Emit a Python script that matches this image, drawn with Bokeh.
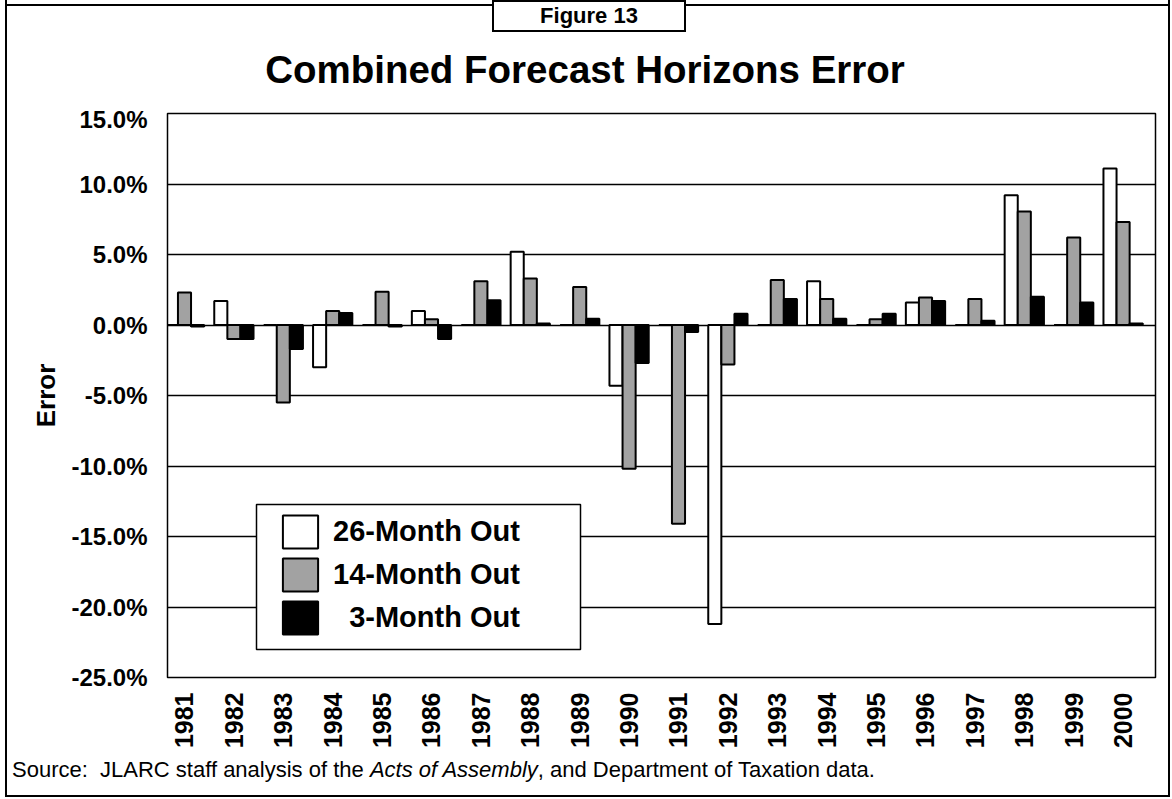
import math
from bokeh.plotting import figure
from bokeh.layouts import column
from bokeh.models import (ColumnDataSource, FixedTicker, Legend, LegendItem, Div,
                          BoxAnnotation, Range1d)
from bokeh.transform import dodge
from bokeh.embed import file_html
from bokeh.resources import INLINE

# ---------------- data (percent error) ----------------
years = ["1981", "1982", "1983", "1984", "1985", "1986", "1987", "1988", "1989", "1990",
         "1991", "1992", "1993", "1994", "1995", "1996", "1997", "1998", "1999", "2000"]
err_26 = [0.0, 1.7, 0.0, -3.0, 0.0, 1.0, 0.0, 5.2, 0.0, -4.3,
          0.0, -21.2, 0.0, 3.1, 0.0, 1.6, 0.0, 9.2, 0.0, 11.1]
err_14 = [2.3, -1.0, -5.5, 1.0, 2.35, 0.4, 3.1, 3.3, 2.7, -10.2,
          -14.1, -2.8, 3.2, 1.85, 0.4, 1.95, 1.85, 8.05, 6.2, 7.3]
err_3 = [-0.1, -1.0, -1.7, 0.85, -0.1, -1.0, 1.75, 0.1, 0.45, -2.7,
         -0.5, 0.8, 1.85, 0.45, 0.8, 1.7, 0.3, 2.0, 1.6, 0.1]
series_names = ["26-Month Out", "14-Month Out", "\u20073-Month Out"]
y_ticks = [15, 10, 5, 0, -5, -10, -15, -20, -25]
y_tick_labels = ["15.0%", "10.0%", "5.0%", "0.0%", "-5.0%", "-10.0%", "-15.0%", "-20.0%", "-25.0%"]
title_text = "Combined Forecast Horizons Error"
figure_tag = "Figure 13"
source_html = ("Source:&nbsp; JLARC staff analysis of the <i>Acts of Assembly</i>, "
               "and Department of Taxation data.")

FONT = "Liberation Sans"
CW = 1161                    # content width inside the outer frame
HEAD_H, FIG_H, SRC_H = 105, 650, 40
FL, FT = 160, 8              # frame left / top (canvas px)
FR, FB = 1148, 572           # frame right / bottom (canvas px)

src = ColumnDataSource(dict(x=list(range(len(years))), m26=err_26, m14=err_14, m3=err_3))

p = figure(width=CW, height=FIG_H, output_backend="svg", toolbar_location=None,
           x_range=Range1d(-0.344, 19.656), y_range=Range1d(-25, 15),
           min_border_left=FL, min_border_right=CW - FR, min_border_top=FT,
           min_border_bottom=FIG_H - FB,
           background_fill_color="white", border_fill_color="white")

bw = 0.265
r26 = p.vbar(x=dodge("x", -0.265, range=p.x_range), top="m26", width=bw, source=src,
             fill_color="white", line_color="black", line_width=2)
r14 = p.vbar(x=dodge("x", 0.0, range=p.x_range), top="m14", width=bw, source=src,
             fill_color="#a2a2a2", line_color="black", line_width=2)
r3 = p.vbar(x=dodge("x", 0.265, range=p.x_range), top="m3", width=bw, source=src,
            fill_color="black", line_color="black", line_width=2)

# axes
p.yaxis.ticker = FixedTicker(ticks=y_ticks)
p.yaxis.major_label_overrides = {t: l for t, l in zip(y_ticks, y_tick_labels)}
p.ygrid.ticker = FixedTicker(ticks=y_ticks)
p.xaxis.ticker = FixedTicker(ticks=list(range(len(years))))
p.xaxis.major_label_overrides = {i: y for i, y in enumerate(years)}
p.xaxis.major_label_orientation = math.pi / 2
p.xgrid.visible = False

for ax in (p.xaxis[0], p.yaxis[0]):
    ax.axis_line_color = None
    ax.major_tick_line_color = None
    ax.minor_tick_line_color = None
    ax.major_tick_out = 0
    ax.major_tick_in = 0
    ax.minor_tick_out = 0
    ax.major_label_text_font = FONT
    ax.major_label_text_font_style = "bold"
    ax.major_label_text_color = "black"
p.yaxis.major_label_text_font_size = "24px"
p.xaxis.major_label_text_font_size = "25px"
p.yaxis.major_label_standoff = 20
p.xaxis.major_label_standoff = 15
p.yaxis.axis_label = "Error"
p.yaxis.axis_label_text_font = FONT
p.yaxis.axis_label_text_font_style = "bold"
p.yaxis.axis_label_text_font_size = "26px"
p.yaxis.axis_label_text_color = "black"
p.yaxis.axis_label_standoff = 7

p.ygrid.grid_line_color = "black"
p.ygrid.grid_line_width = 1.3
p.ygrid.grid_line_alpha = 1.0
p.outline_line_color = "black"
p.outline_line_width = 1.5
p.outline_line_alpha = 1.0

# legend box + legend
p.add_layout(BoxAnnotation(left=249, right=573, top=399, bottom=544,
                           left_units="canvas", right_units="canvas",
                           top_units="canvas", bottom_units="canvas",
                           fill_color="white", fill_alpha=1.0, line_color="black",
                           line_width=1.5, line_alpha=1.0))
legend = Legend(items=[LegendItem(label=series_names[0], renderers=[r26]),
                       LegendItem(label=series_names[1], renderers=[r14]),
                       LegendItem(label=series_names[2], renderers=[r3])],
                location=(111, 39), padding=11, spacing=2, glyph_width=44, glyph_height=41,
                label_standoff=11, label_height=41, margin=0,
                label_text_font=FONT, label_text_font_style="bold", label_text_font_size="29px",
                label_text_color="black", background_fill_alpha=0.0, border_line_color=None)
p.add_layout(legend, "center")

# header: top frame line, figure tag box and title
head = Div(width=CW, height=HEAD_H, margin=0, text=(
    f'<div style="position:relative;width:{CW}px;height:{HEAD_H}px;">'
    f'<div style="position:absolute;left:0px;top:4px;width:{CW}px;height:0px;'
    'border-top:2px solid black;"></div>'
    '<div style="position:absolute;left:485px;top:0px;width:194px;height:32px;'
    'box-sizing:border-box;border:2px solid black;background:white;text-align:center;'
    f"font-family:'{FONT}';font-weight:bold;font-size:22px;line-height:28px;color:black;\">"
    f'{figure_tag}</div>'
    '<div style="position:absolute;left:0px;top:50px;width:1156px;text-align:center;'
    f"font-family:'{FONT}';font-weight:bold;font-size:38.5px;line-height:40px;color:black;\">"
    f'{title_text}</div></div>'))

# source note
note = Div(width=CW, height=SRC_H, margin=0, text=(
    f"<div style=\"padding-left:5px;padding-top:0px;font-family:'{FONT}';font-size:22px;"
    f"line-height:30px;color:black;white-space:nowrap;\">{source_html}</div>"))

root = column(head, p, note, spacing=0,
              styles={"border-left": "2px solid black", "border-right": "2px solid black",
                      "border-bottom": "2px solid black", "margin-left": "5px",
                      "margin-top": "0px", "background": "white"})

open("out.html", "w").write(file_html(root, INLINE))
